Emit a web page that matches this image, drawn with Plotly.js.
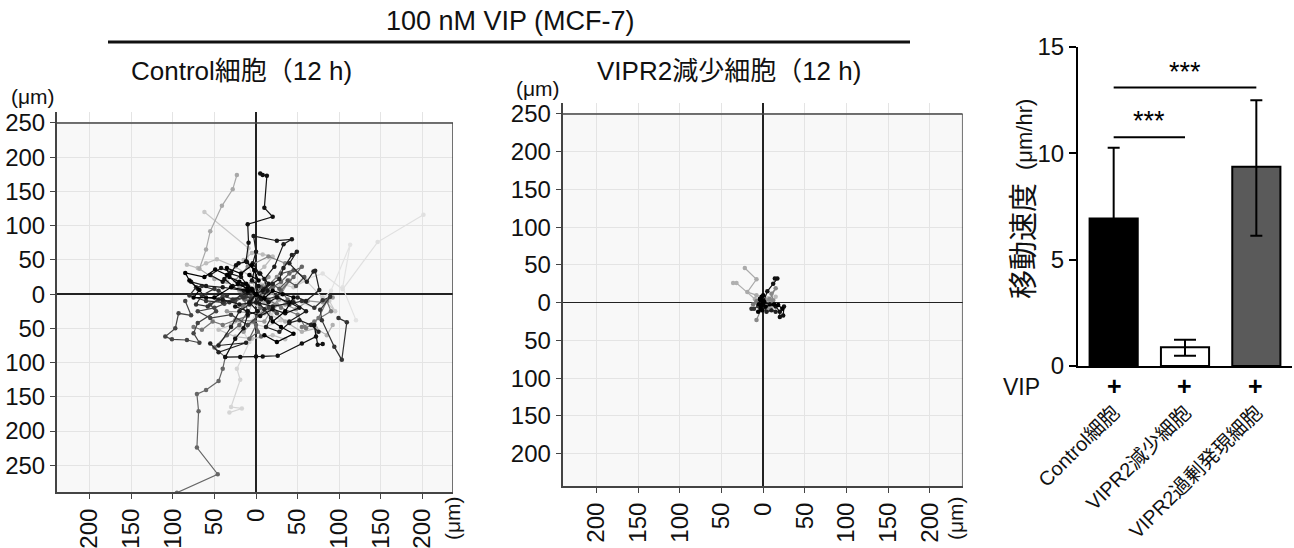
<!DOCTYPE html>
<html><head><meta charset="utf-8">
<script src="https://cdn.plot.ly/plotly-3.0.1.min.js"></script>
<style>body{margin:0;background:#fff}#chart{width:1294px;height:548px}</style>
</head><body><div id="chart"></div>
<script>
// ---------- Control cell tracks (μm) ----------
const c01x=[0,3,-5,-2,-12,-9,-10,20,10,13,8,5];          const c01y=[0,12,20,35,48,75,102,113,126,173,174,176];
const c02x=[0,6,14,10,22,33,43,25,-3,0,-4,4];            const c02y=[0,-8,5,22,40,73,80,78,85,62,45,30];
const c03x=[0,-8,-20,-35,-50,-68,-60,-55,-41,-28,-23];   const c03y=[0,10,5,18,22,37,65,92,129,153,174];
const c04x=[0,6,-4,-10,-9,-62];                          const c04y=[0,14,25,45,67,120];
const c05x=[0,-10,-5,-25,-47,-60,-70,-83];               const c05y=[0,8,25,40,51,45,38,43];
const c06x=[0,12,30,55,80,104,146,201];                  const c06y=[0,-6,10,20,30,7,76,116];
const c07x=[0,20,45,70,90,113,104,120];                  const c07y=[0,-12,-10,-20,5,72,10,-38];
const c08x=[0,12,25,40,55,70,80,89,77,79,94,103,109,99]; const c08y=[0,-8,-3,-15,-10,-20,-9,-4,-23,-38,-77,-96,-41,-35];
const c09x=[0,-6,-14,-10,-20,-35,-50,-37,-40,-45,-60,-71,-69,-71,-46,-95];
const c09y=[0,-12,-8,-25,-45,-60,-78,-92,-109,-127,-140,-146,-171,-224,-263,-290];
const c10x=[0,4,-5,-15,-8,-23,-19,-30,-17,-32];          const c10y=[0,-15,-40,-55,-70,-109,-125,-165,-167,-173];
const c11x=[0,-12,-25,-40,-55,-48,-70,-75,-68,-83,-101,-109,-97,-93,-78,-85];
const c11y=[0,5,-8,-3,-15,-25,-42,-57,-71,-67,-66,-62,-50,-28,-31,-10];
const c12x=[0,-8,2,-10,-15,-25,-37,-19,0,8,26,55,72,70,74,80];
const c12y=[0,-12,-25,-30,-50,-65,-92,-92,-91,-91,-90,-72,-62,-45,-74,-73];
const c13x=[0,-8,-20,-30,-45,-12,-45,-55];               const c13y=[0,-15,-25,-48,-75,-71,-85,-72];
const c14x=[0,-10,-22,-35,-49,-62,-85,-80,-68,-75,-50,-30,-10]; const c14y=[0,8,15,28,36,25,31,20,6,-5,-5,10,5];
const c15x=[0,-10,-18,-31,-24,-21,-11,-2,5,15,8];        const c15y=[0,12,25,30,42,45,47,35,30,15,5];
const c16x=[0,10,20,28,33,43,49,40,61,69,71,76,60,50];   const c16y=[0,8,15,22,38,57,62,45,18,33,34,6,-10,-5];
const c17x=[0,15,30,50,60,75,85,90,70,55];               const c17y=[0,-8,-20,-30,-50,-35,-10,-25,-40,-48];
const c18x=[0,8,15,-5,-20,5,25,10,-35,-20,10,40,-15];    const c18y=[0,12,25,18,10,-5,-15,-28,-25,-38,-40,20,-55];
const c19x=[0,-15,-40,-60,-78,-70,-60,-40,-20,0,20,45,60,40]; const c19y=[0,5,10,12,18,8,-5,-8,-15,-12,-18,-12,-25,-40];
const c20x=[0,-12,-25,-38,-50,-70,-55,-30,-10,15,25];    const c20y=[0,-4,-10,-14,-20,-25,-35,-30,-45,-20,-28];
const c21x=[0,10,22,35,55,72,85,92];                     const c21y=[0,-12,-25,-40,-55,-50,-60,-45];
const c22x=[0,12,25,35,15,-10,-25,-15,-5];               const c22y=[0,10,25,45,55,40,20,-5,-12];
const c23x=[0,10,20,32,45,35,20,30,45,25,10];            const c23y=[0,-6,5,0,-5,-25,-40,-48,-58,-70,-60];
const c24x=[0,-8,-15,-28,-40,-60,-80,-72,-65,-45,-35];   const c24y=[0,4,-5,-8,-12,-10,-2,10,12,5,-2];
const c25x=[0,-10,-18,-30,-45,-25,-5,20,35];             const c25y=[0,-30,-38,-45,-52,-62,-65,-60,-66];
const c26x=[0,10,20,30,40,55,45,30,38];                  const c26y=[0,5,10,18,30,40,25,5,-8];
const c27x=[0,-5,-12,-20,-32,-35,-18,-5,3,-8];           const c27y=[0,8,15,18,25,38,30,42,20,28];
const c28x=[0,5,-3,2,-8,0,6];                            const c28y=[0,-20,-40,-55,-65,-45,-62];
const c29x=[0,15,30,45,60,80,95,88];                     const c29y=[0,5,15,10,20,-5,-25,-10];
const c30x=[0,-5,10,20,8,-5,-15];                        const c30y=[0,25,40,55,58,60,50];
const c31x=[0,5,15,25,40,52,35,20,5,-10,-25];            const c31y=[0,-5,-12,-5,-12,-20,-28,-22,-32,-25,-18];
const c32x=[0,-6,-18,-32,-45,-58,-72,-65,-50];           const c32y=[0,-6,-2,-12,-8,-18,-15,-2,8];
const c33x=[0,8,18,28,22,35,48,62,80,92];                const c33y=[0,-3,2,-8,-18,-15,-22,-10,-12,-5];
const c34x=[0,-5,5,18,30,12,-8,-20];                     const c34y=[0,-12,-22,-30,-38,-48,-42,-50];
const c35x=[0,-4,-10,-16,-28,-38,-30,-42,-55,-40];       const c35y=[0,6,2,14,12,22,32,38,28,18];
const c36x=[0,6,12,20,28,38,48,58,45,30];                const c36y=[0,10,4,14,8,20,12,25,35,30];
const c37x=[0,-8,-16,-10,-25,-40,-52,-65,-75];           const c37y=[0,-10,-18,-32,-38,-45,-40,-52,-48];
const c38x=[0,4,10,18,12,28,40,52,66,75];                const c38y=[0,-14,-22,-35,-48,-55,-42,-38,-45,-55];

// ---------- VIPR2 knock-down tracks (μm) ----------
const v01x=[0,-8,-19,-8,-22];       const v01y=[0,10,14,31,46];
const v02x=[0,-10,-32,-36];         const v02y=[0,5,26,26];
const v03x=[0,5,12,17,14];          const v03y=[0,15,25,32,32];
const v04x=[0,8,15,20,20,24,25];    const v04y=[0,-2,-5,-12,-19,-17,-5];
const v05x=[0,-5,-14,-11,-6];       const v05y=[0,-5,-8,-8,-4];
const v06x=[0,-3,-8];               const v06y=[0,-10,-23];
const v07x=[0,-3,-2,-4,1,-2,0];     const v07y=[0,3,8,5,2,-3,10];
const v08x=[0,8,15,10,12];          const v08y=[0,5,19,12,3];
const v09x=[0,2,4,10,15];           const v09y=[0,-6,-12,-10,-12];
const v10x=[0,6,10,15,12];          const v10y=[0,6,2,8,-3];
const v11x=[0,-8,-12,-5];           const v11y=[0,2,-2,-1];
const v12x=[0,3,13,18,23];          const v12y=[0,-5,-2,-3,-8];
const v13x=[0,-2,-5,-3,-6,-1];      const v13y=[0,-4,-2,-8,-12,-10];
const v14x=[0,4,8,5,10,6];          const v14y=[0,4,0,-6,-4,-10];

// ---------- migration speed bar chart (μm/hr) ----------
const groups=['Control細胞','VIPR2減少細胞','VIPR2過剰発現細胞'];
const speedMean=[6.93,0.88,9.36];
const speedErrUp=[3.32,0.35,3.13];
const speedErrDown=[3.32,0.40,3.24];

// tick labels
const ctrlYVals=[250,200,150,100,50,0,-50,-100,-150,-200,-250];
const ctrlYText=['250','200','150','100','50','0','50','100','150','200','250'];
const kdYVals=[250,200,150,100,50,0,-50,-100,-150,-200];
const kdYText=['250','200','150','100','50','0','50','100','150','200'];
const xVals=[-200,-150,-100,-50,0,50,100,150,200];
const xText=['200','150','100','50','0','50','100','150','200'];

// ---------- styling ----------
const W=1294,H=548;
const FX=px=>px/W, FY=py=>(H-py)/H;
const FONT='"Liberation Sans", Arial, "Noto Sans CJK JP", sans-serif';

const ctrlTracks=[[c01x,c01y,'#111'],[c02x,c02y,'#1a1a1a'],[c03x,c03y,'#a8a8a8'],[c04x,c04y,'#c8c8c8'],
 [c05x,c05y,'#bdbdbd'],[c06x,c06y,'#e0e0e0'],[c07x,c07y,'#e3e3e3'],[c08x,c08y,'#333'],
 [c09x,c09y,'#666'],[c10x,c10y,'#d5d5d5'],[c11x,c11y,'#444'],[c12x,c12y,'#111'],
 [c13x,c13y,'#222'],[c14x,c14y,'#000'],[c15x,c15y,'#111'],[c16x,c16y,'#222'],
 [c17x,c17y,'#777'],[c18x,c18y,'#999'],[c19x,c19y,'#1a1a1a'],[c20x,c20y,'#444'],
 [c21x,c21y,'#b0b0b0'],[c22x,c22y,'#888'],[c23x,c23y,'#000'],[c24x,c24y,'#333'],
 [c25x,c25y,'#c0c0c0'],[c26x,c26y,'#666'],[c27x,c27y,'#000'],[c28x,c28y,'#666'],
 [c29x,c29y,'#cccccc'],[c30x,c30y,'#bbbbbb'],[c31x,c31y,'#111'],[c32x,c32y,'#333'],
 [c33x,c33y,'#999'],[c34x,c34y,'#cccccc'],[c35x,c35y,'#111'],[c36x,c36y,'#555'],
 [c37x,c37y,'#777'],[c38x,c38y,'#222']];
const kdTracks=[[v01x,v01y,'#aaa'],[v02x,v02y,'#b0b0b0'],[v03x,v03y,'#111'],[v04x,v04y,'#111'],
 [v05x,v05y,'#333'],[v06x,v06y,'#888'],[v07x,v07y,'#000'],[v08x,v08y,'#888'],
 [v09x,v09y,'#222'],[v10x,v10y,'#bbb'],[v11x,v11y,'#777'],[v12x,v12y,'#000'],
 [v13x,v13y,'#000'],[v14x,v14y,'#999']];

const traces=[];
function lum(c){const h=c.replace('#','');return h.length===3?parseInt(h[0]+h[0],16):parseInt(h.slice(0,2),16);}
function addTracks(list,xa,ya){
  list.slice().sort((a,b)=>lum(b[2])-lum(a[2])).forEach(t=>{
    traces.push({type:'scatter',mode:'lines+markers',x:t[0],y:t[1],xaxis:xa,yaxis:ya,
      line:{color:t[2],width:1.2},marker:{color:t[2],size:4.5},hoverinfo:'skip'});
  });
}
addTracks(ctrlTracks,'x','y');
addTracks(kdTracks,'x2','y2');

const barFill=['#000','#fff','#5a5a5a'];
const capW=[6,11,6];
groups.forEach((g,i)=>{
  traces.push({type:'bar',x:[g],y:[speedMean[i]],xaxis:'x3',yaxis:'y3',width:0.675,
    marker:{color:barFill[i],line:{color:'#000',width:2}},
    error_y:{type:'data',symmetric:false,array:[speedErrUp[i]],arrayminus:[speedErrDown[i]],
      color:'#000',thickness:2,width:capW[i]},hoverinfo:'skip'});
});

const tickFont={family:FONT,size:24,color:'#111'};
function trackAxes(dx,dy,xr,yr,yv,yt){
  const common={showgrid:true,gridcolor:'#e4e4e4',gridwidth:1,zeroline:true,zerolinecolor:'#222',zerolinewidth:1.5,
      showline:true,linecolor:'#444',linewidth:2,ticks:'outside',ticklen:5,tickcolor:'#444',fixedrange:true,tickfont:tickFont};
  return [Object.assign({domain:dx,range:xr,tickvals:xVals,ticktext:xText,tickangle:-90},common),
          Object.assign({domain:dy,range:yr,tickvals:yv,ticktext:yt},common)];
}
const [xa1,ya1]=trackAxes([FX(57),FX(453)],[FY(492),FY(112)],[-239,236.5],[-289,266],ctrlYVals,ctrlYText);
const [xa2,ya2]=trackAxes([FX(562.7),FX(962.7)],[FY(486),FY(103)],[-240.4,239.3],[-242.8,264.5],kdYVals,kdYText);
xa1.anchor='y'; ya1.anchor='x'; xa2.anchor='y2'; ya2.anchor='x2';

function ann(text,x,y,o){return Object.assign({text:text,x:FX(x),y:FY(y),xref:'paper',yref:'paper',
  showarrow:false,xanchor:'center',yanchor:'middle',font:{family:FONT,size:22,color:'#111'}},o||{});}

const shapes=[
  {type:'rect',xref:'x',yref:'y',x0:-239,x1:236.5,y0:-289,y1:250,fillcolor:'#f8f8f8',line:{width:0},layer:'below'},
  {type:'rect',xref:'x2',yref:'y2',x0:-240.4,x1:239.3,y0:-242.8,y1:250,fillcolor:'#f8f8f8',line:{width:0},layer:'below'},
  {type:'line',xref:'x',yref:'y',x0:-239,x1:236.5,y0:250,y1:250,line:{color:'#444',width:1.5}},
  {type:'line',xref:'x',yref:'y',x0:236.5,x1:236.5,y0:-289,y1:250,line:{color:'#444',width:1.5}},
  {type:'line',xref:'x2',yref:'y2',x0:-240.4,x1:239.3,y0:250,y1:250,line:{color:'#444',width:1.5}},
  {type:'line',xref:'x2',yref:'y2',x0:239.3,x1:239.3,y0:-242.8,y1:250,line:{color:'#444',width:1.5}},
  {type:'line',xref:'paper',yref:'paper',x0:FX(108),x1:FX(910),y0:FY(42),y1:FY(42),line:{color:'#111',width:3}},
  {type:'line',xref:'x3',yref:'y3',x0:0,x1:1,y0:10.75,y1:10.75,line:{color:'#000',width:2}},
  {type:'line',xref:'x3',yref:'y3',x0:0,x1:2,y0:13.08,y1:13.08,line:{color:'#000',width:2}}
];

const plusX=[1114,1184.5,1255.5];
const annotations=[
  ann('100 nM VIP (MCF-7)',510,21,{font:{family:FONT,size:27,color:'#111'}}),
  ann('Control細胞（12 h)',241,71,{font:{family:FONT,size:26,color:'#111'}}),
  ann('VIPR2減少細胞（12 h)',729,71,{font:{family:FONT,size:26,color:'#111'}}),
  ann('(μm)',33,97,{font:{family:FONT,size:21,color:'#111'}}),
  ann('(μm)',538,88,{font:{family:FONT,size:21,color:'#111'}}),
  ann('(μm)',452,518,{textangle:-90,font:{family:FONT,size:21,color:'#111'}}),
  ann('(μm)',955,518,{textangle:-90,font:{family:FONT,size:21,color:'#111'}}),
  ann('移動速度',1024,241,{textangle:-90,font:{family:FONT,size:29,color:'#111'}}),
  ann('(μm/hr)',1025,135,{textangle:-90,font:{family:FONT,size:22,color:'#111'}}),
  ann('VIP',1021,387,{font:{family:FONT,size:23,color:'#111'}}),
  {text:'***',x:0.5,y:11.5,xref:'x3',yref:'y3',showarrow:false,font:{family:FONT,size:27,color:'#000'}},
  {text:'***',x:1,y:13.8,xref:'x3',yref:'y3',showarrow:false,font:{family:FONT,size:27,color:'#000'}}
];
plusX.forEach(p=>annotations.push(ann('<b>+</b>',p,386,{font:{family:FONT,size:25,color:'#000'}})));

const layout={width:W,height:H,margin:{l:0,r:0,t:0,b:0},showlegend:false,
  paper_bgcolor:'#fff',plot_bgcolor:'rgba(0,0,0,0)',barmode:'overlay',
  xaxis:xa1,yaxis:ya1,xaxis2:xa2,yaxis2:ya2,
  xaxis3:{domain:[FX(1078),FX(1292)],anchor:'y3',type:'category',categoryorder:'array',categoryarray:groups,
    range:[-0.5,2.5],showline:true,linecolor:'#000',linewidth:2,ticks:'',showgrid:false,zeroline:false,
    tickangle:-45,ticklabelstandoff:25,tickfont:{family:FONT,size:20,color:'#111'},fixedrange:true},
  yaxis3:{domain:[FY(366),FY(46.7)],anchor:'x3',range:[0,15],tickvals:[0,5,10,15],showline:true,linecolor:'#000',
    linewidth:2,ticks:'outside',ticklen:7,tickwidth:2,tickcolor:'#000',showgrid:false,zeroline:false,
    tickfont:{family:FONT,size:24,color:'#111'},fixedrange:true},
  shapes:shapes,annotations:annotations};

Plotly.newPlot('chart',traces,layout,{staticPlot:true,displayModeBar:false});
</script></body></html>
